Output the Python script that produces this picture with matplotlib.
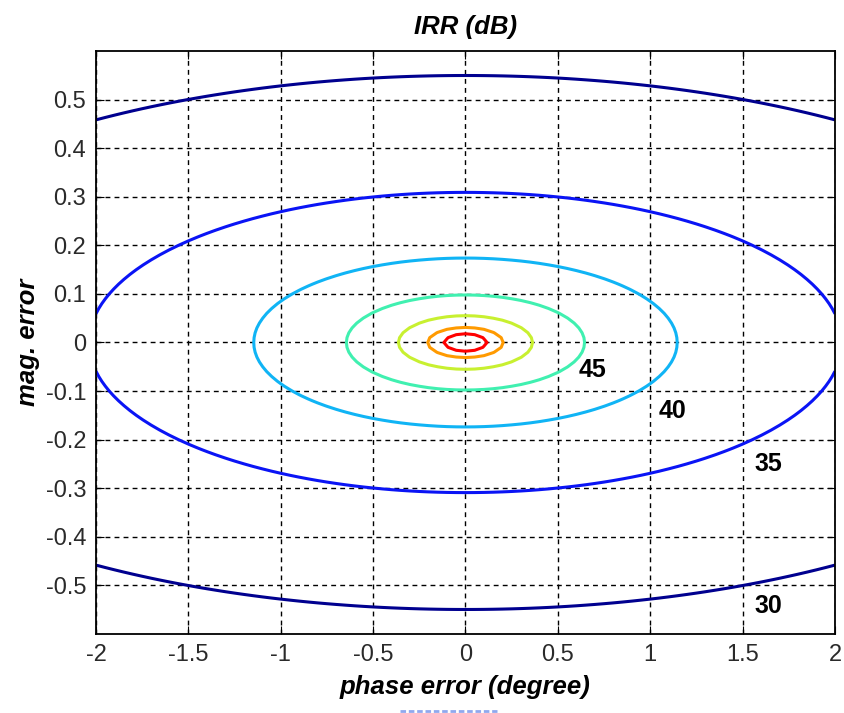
import numpy as np
import matplotlib
matplotlib.use('Agg')
import matplotlib.pyplot as plt
from matplotlib.lines import Line2D

plt.rcParams['font.family'] = ['Liberation Sans', 'DejaVu Sans']

# contour levels (dB) and their colours
levels = [30, 35, 40, 45, 50, 55, 60]
level_colors = ['#00008f', '#0a14f5', '#10b4f5', '#40f0b0', '#c8f030', '#ff9a00', '#ff0000']

# labelled levels and where the labels sit (phase deg, mag dB)
label_levels = [45, 40, 35, 30]
label_x = [0.69, 1.12, 1.64, 1.64]
label_y = [-0.056, -0.142, -0.251, -0.543]

xticks = [-2, -1.5, -1, -0.5, 0, 0.5, 1, 1.5, 2]
yticks = [-0.5, -0.4, -0.3, -0.2, -0.1, 0, 0.1, 0.2, 0.3, 0.4, 0.5]

# image rejection ratio of an IQ pair with gain error (dB) and phase error (deg)
phase = np.arange(-2, 2.0001, 0.05)
mag = np.arange(-0.6, 0.6001, 0.01)
P, M = np.meshgrid(phase, mag)
g = 10 ** (M / 20)
th = np.deg2rad(P)
irr = 10 * np.log10((1 + 2 * g * np.cos(th) + g ** 2) / (1 - 2 * g * np.cos(th) + g ** 2))

fig = plt.figure(figsize=(8.44, 7.13), dpi=100)
ax = fig.add_axes([0.1137, 0.1108, 0.8756, 0.8177])

ax.contour(P, M, irr, levels=levels, colors=level_colors, linewidths=2.2)

for lv, lx, ly in zip(label_levels, label_x, label_y):
    ax.text(lx, ly, str(lv), fontsize=18, fontweight='bold', ha='center', va='center')

ax.set_xlim(-2, 2)
ax.set_ylim(-0.6, 0.6)
ax.set_xticks(xticks)
ax.set_yticks(yticks)
ax.set_xticklabels([('%g' % t) for t in xticks])
ax.set_yticklabels([('%g' % t) for t in yticks])
ax.grid(True, color='black', linestyle=(0, (3.5, 3)), linewidth=1.0)
ax.tick_params(direction='in', top=True, right=True, length=6, labelsize=17,
               labelcolor='#2a2a2a', pad=7)
for s in ax.spines.values():
    s.set_linewidth(1.3)

ax.set_title('IRR (dB)', fontsize=18.5, fontstyle='italic', fontweight='bold', pad=12)
ax.set_xlabel('phase error (degree)', fontsize=18.5, fontstyle='italic', fontweight='bold', labelpad=7)
ax.set_ylabel('mag. error', fontsize=18.5, fontstyle='italic', fontweight='bold', labelpad=4)

# faint blue underline artefact below the x label
fig.add_artist(Line2D([0.474, 0.589], [0.003, 0.003], color='#8fa8ee', linewidth=2,
                      linestyle=(0, (2, 1)), transform=fig.transFigure))

fig.savefig('out.png', dpi=100)
